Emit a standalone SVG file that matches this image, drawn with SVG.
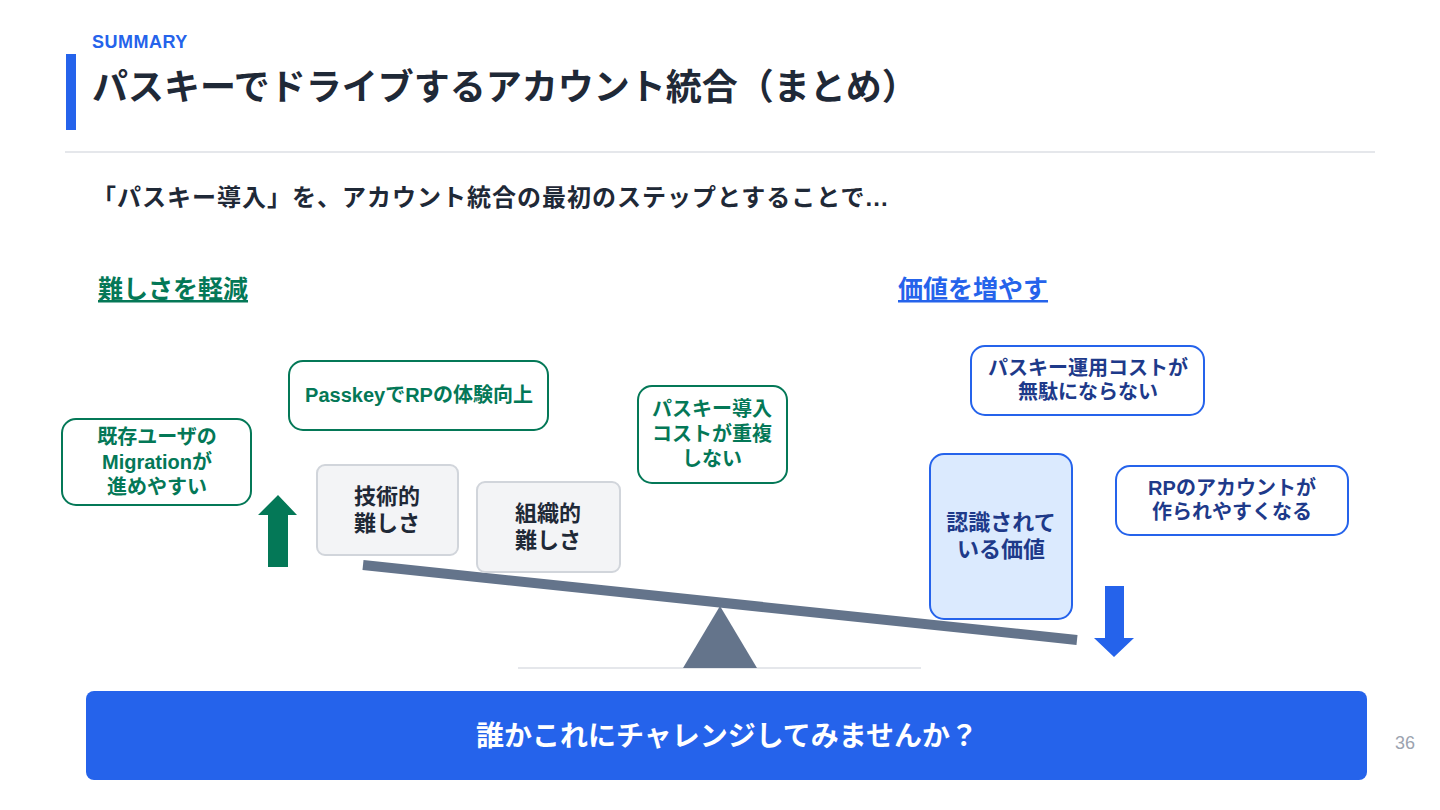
<svg xmlns="http://www.w3.org/2000/svg" width="1440" height="810" viewBox="0 0 1440 810">
<style>
text{font-family:"Liberation Sans","Noto Sans CJK JP",sans-serif;font-weight:bold;}
.c{text-anchor:middle;dominant-baseline:central;}
.g{fill:#047857;font-size:20px;}
.b{fill:#1e3a8a;font-size:20px;}
.k{fill:#1f2937;font-size:22px;}
.gbox{fill:#ffffff;stroke:#047857;stroke-width:2;}
.bbox{fill:#ffffff;stroke:#2563eb;stroke-width:2;}
.gray{fill:#f3f4f6;stroke:#d1d5db;stroke-width:2;}
</style>
<rect width="1440" height="810" fill="#ffffff"/>
<g id="header">
<text x="92" y="48" font-size="18" fill="#2563eb" letter-spacing="0.5">SUMMARY</text>
<rect x="66" y="54" width="10" height="76" fill="#2563eb"/>
<text x="92" y="100" font-size="36" fill="#1f2937">パスキーでドライブするアカウント統合（まとめ）</text>
<line x1="65" y1="152" x2="1375" y2="152" stroke="#e5e7eb" stroke-width="2"/>
<text x="92" y="206" font-size="24" fill="#1f2937" letter-spacing="1">「パスキー導入」を、アカウント統合の最初のステップとすることで...</text>
</g>
<g id="label-left">
<text x="98" y="298" font-size="25" fill="#047857" text-decoration="underline">難しさを軽減</text>
</g>
<g id="label-right">
<text x="898" y="298" font-size="25" fill="#2563eb" text-decoration="underline">価値を増やす</text>
</g>
<g id="seesaw">
<line x1="518" y1="668" x2="921" y2="668" stroke="#e5e7eb" stroke-width="2"/>
<polygon points="720,606 683,668 757,668" fill="#64748b"/>
<line x1="363" y1="565" x2="1077" y2="640" stroke="#64748b" stroke-width="10"/>
</g>
<g id="arrow-up">
<polygon points="278,495 297,515 288,515 288,567 268,567 268,515 258,515" fill="#047857"/>
</g>
<g id="arrow-down">
<polygon points="1105,586 1124,586 1124,638 1134,638 1114,657 1094,638 1105,638" fill="#2563eb"/>
</g>
<g id="node-migration">
<rect class="gbox" x="62" y="419" width="189" height="86" rx="14"/>
<text class="c g" x="157" y="437">既存ユーザの</text>
<text class="c g" x="157" y="462">Migrationが</text>
<text class="c g" x="157" y="487">進めやすい</text>
</g>
<g id="node-rp-experience">
<rect class="gbox" x="289" y="361" width="259" height="69" rx="14"/>
<text class="c g" x="419" y="395">PasskeyでRPの体験向上</text>
</g>
<g id="node-cost">
<rect class="gbox" x="638" y="386" width="149" height="97" rx="14"/>
<text class="c g" x="712" y="409">パスキー導入</text>
<text class="c g" x="712" y="434">コストが重複</text>
<text class="c g" x="712" y="459">しない</text>
</g>
<g id="node-tech">
<rect class="gray" x="317" y="465" width="141" height="90" rx="8"/>
<text class="c k" x="387" y="496">技術的</text>
<text class="c k" x="387" y="523">難しさ</text>
</g>
<g id="node-org">
<rect class="gray" x="477" y="482" width="143" height="90" rx="8"/>
<text class="c k" x="548" y="513">組織的</text>
<text class="c k" x="548" y="540">難しさ</text>
</g>
<g id="node-ops">
<rect class="bbox" x="971" y="346" width="233" height="69" rx="14"/>
<text class="c b" x="1088" y="368">パスキー運用コストが</text>
<text class="c b" x="1088" y="392">無駄にならない</text>
</g>
<g id="node-rp-account">
<rect class="bbox" x="1116" y="466" width="232" height="69" rx="14"/>
<text class="c b" x="1232" y="488">RPのアカウントが</text>
<text class="c b" x="1232" y="512">作られやすくなる</text>
</g>
<g id="node-value">
<rect x="930" y="454" width="142" height="165" rx="14" fill="#dbeafe" stroke="#2563eb" stroke-width="2"/>
<text class="c" x="1001" y="522" font-size="22" fill="#1e3a8a">認識されて</text>
<text class="c" x="1001" y="549" font-size="22" fill="#1e3a8a">いる価値</text>
</g>
<g id="banner">
<rect x="86" y="691" width="1281" height="89" rx="8" fill="#2563eb"/>
<text class="c" x="727" y="736" font-size="28" fill="#ffffff">誰かこれにチャレンジしてみませんか？</text>
</g>
<text x="1405" y="749" font-size="18" fill="#9ca3af" text-anchor="middle" style="font-weight:normal">36</text>
</svg>
